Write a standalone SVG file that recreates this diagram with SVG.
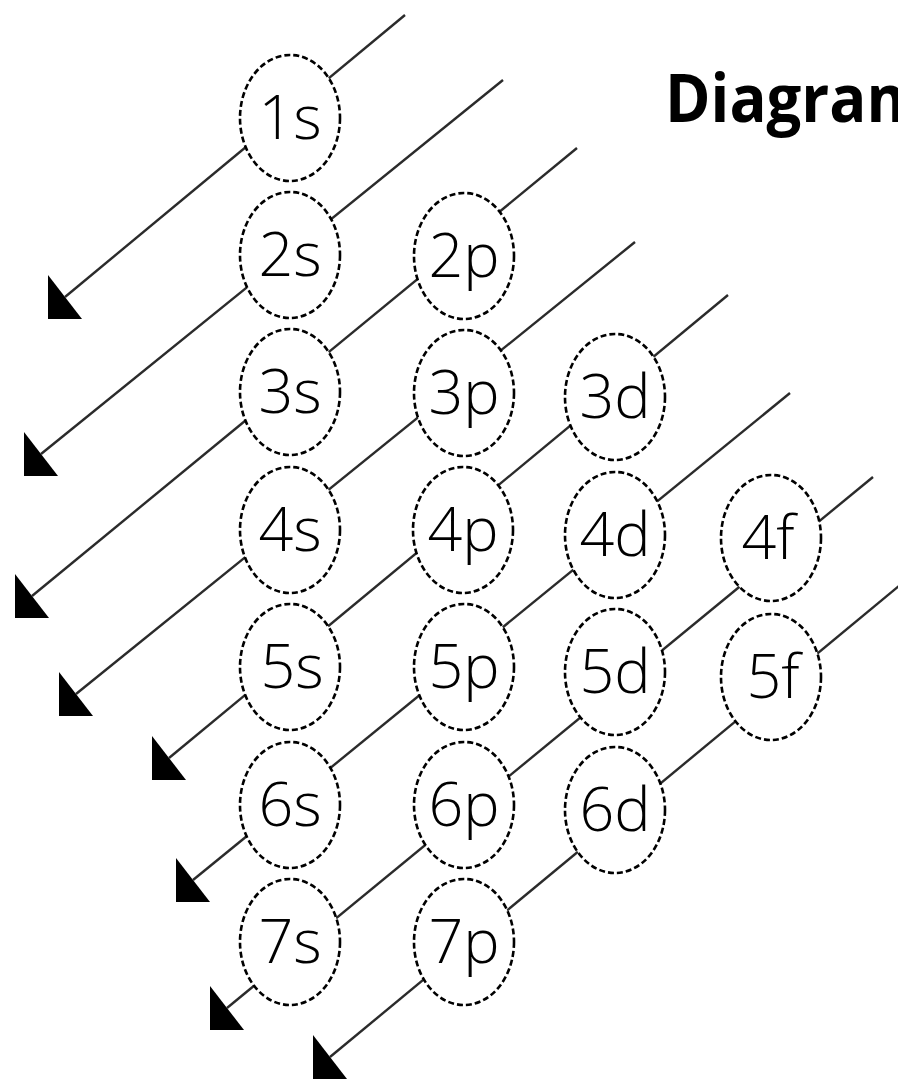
<svg xmlns="http://www.w3.org/2000/svg" width="898" height="1080" viewBox="0 0 898 1080">
  <defs>
    <marker id="tri" markerUnits="userSpaceOnUse" markerWidth="36" markerHeight="46" refX="17" refY="22" orient="0" viewBox="0 0 36 46">
      <path d="M0,0 L0,44 L34,44 Z" fill="#000"/>
    </marker>
    <style>
      .conn line { stroke: #2b2b2b; stroke-width: 2.4; marker-end: url(#tri); }
      .orb ellipse { fill: #fff; stroke: #000; stroke-width: 2.6; stroke-dasharray: 6 3; }
      .orb text { font-family: "Open Sans", "Liberation Sans", sans-serif; font-weight: 300; font-size: 61px; fill: #000; text-anchor: middle; }
      .title { font-family: "Open Sans", "Lato", "Liberation Sans", sans-serif; font-weight: 700; font-size: 66px; fill: #000; }
    </style>
  </defs>
  <rect width="898" height="1080" fill="#fff"/>

  <g id="connectors" class="conn">
    <line x1="405" y1="15" x2="65" y2="297"/>
    <line x1="503" y1="80" x2="41" y2="454"/>
    <line x1="577" y1="148" x2="32" y2="596"/>
    <line x1="635" y1="242" x2="76" y2="694"/>
    <line x1="728" y1="295" x2="169" y2="758"/>
    <line x1="790" y1="393" x2="193" y2="880"/>
    <line x1="873" y1="477" x2="227" y2="1008"/>
    <line x1="905" y1="581" x2="330" y2="1057"/>
  </g>

  <g id="n1s" class="orb"><ellipse cx="290" cy="118" rx="50" ry="63"/><text x="290" y="139">1s</text></g>
  <g id="n2s" class="orb"><ellipse cx="290" cy="255" rx="50" ry="63"/><text x="290" y="276">2s</text></g>
  <g id="n2p" class="orb"><ellipse cx="464" cy="256" rx="50" ry="63"/><text x="464" y="277">2p</text></g>
  <g id="n3s" class="orb"><ellipse cx="290" cy="392" rx="50" ry="63"/><text x="290" y="413">3s</text></g>
  <g id="n3p" class="orb"><ellipse cx="464" cy="393" rx="50" ry="63"/><text x="464" y="414">3p</text></g>
  <g id="n3d" class="orb"><ellipse cx="615" cy="397" rx="50" ry="63"/><text x="615" y="418">3d</text></g>
  <g id="n4s" class="orb"><ellipse cx="290" cy="530" rx="50" ry="63"/><text x="290" y="551">4s</text></g>
  <g id="n4p" class="orb"><ellipse cx="463" cy="530" rx="50" ry="63"/><text x="463" y="551">4p</text></g>
  <g id="n4d" class="orb"><ellipse cx="615" cy="535" rx="50" ry="63"/><text x="615" y="556">4d</text></g>
  <g id="n4f" class="orb"><ellipse cx="771" cy="538" rx="50" ry="63"/><text x="768" y="559">4f</text></g>
  <g id="n5s" class="orb"><ellipse cx="290" cy="667" rx="50" ry="63"/><text x="292" y="688">5s</text></g>
  <g id="n5p" class="orb"><ellipse cx="464" cy="667" rx="50" ry="63"/><text x="464" y="688">5p</text></g>
  <g id="n5d" class="orb"><ellipse cx="615" cy="672" rx="50" ry="63"/><text x="615" y="693">5d</text></g>
  <g id="n5f" class="orb"><ellipse cx="771" cy="677" rx="50" ry="63"/><text x="773" y="698">5f</text></g>
  <g id="n6s" class="orb"><ellipse cx="290" cy="805" rx="50" ry="63"/><text x="290" y="826">6s</text></g>
  <g id="n6p" class="orb"><ellipse cx="464" cy="805" rx="50" ry="63"/><text x="464" y="826">6p</text></g>
  <g id="n6d" class="orb"><ellipse cx="615" cy="810" rx="50" ry="63"/><text x="615" y="831">6d</text></g>
  <g id="n7s" class="orb"><ellipse cx="290" cy="942" rx="50" ry="63"/><text x="290" y="963">7s</text></g>
  <g id="n7p" class="orb"><ellipse cx="464" cy="942" rx="50" ry="63"/><text x="464" y="963">7p</text></g>

  <g id="title">
    <text class="title" x="665" y="122" textLength="262" lengthAdjust="spacingAndGlyphs">Diagram</text>
  </g>
</svg>
